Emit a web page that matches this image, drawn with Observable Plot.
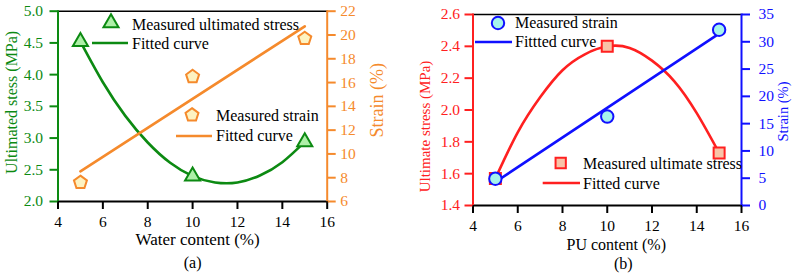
<!DOCTYPE html>
<html>
<head>
<meta charset="utf-8">
<script src="https://cdn.jsdelivr.net/npm/d3@7"></script>
<script src="https://cdn.jsdelivr.net/npm/@observablehq/plot@0.6"></script>
<style>
  html, body { margin: 0; padding: 0; background: #fff; }
  #wrap { display: flex; width: 796px; height: 273px; }
  svg { overflow: visible; }
</style>
</head>
<body>
<div id="wrap"></div>
<script>
// ---------- Panel (a): water content ----------
const waterContent = [5, 10, 15];
const stressA = [4.52, 2.40, 2.94];          // measured ultimate stress (MPa)
const strainA = [7.6, 16.5, 19.7];           // measured strain (%)
const fitStressAX = [5, 6, 7, 8, 9, 10, 11, 12, 13, 14, 15];
const fitStressAY = [4.52, 3.88, 3.35, 2.93, 2.61, 2.40, 2.30, 2.30, 2.41, 2.62, 2.94];
const fitStrainAX = [5, 15];
const fitStrainAY = [8.53, 20.73];
const ticksXA = [4, 6, 8, 10, 12, 14, 16];
const ticksStressA = [2.0, 2.5, 3.0, 3.5, 4.0, 4.5, 5.0];
const ticksStrainA = [6, 8, 10, 12, 14, 16, 18, 20, 22];

// ---------- Panel (b): PU content ----------
const puContent = [5, 10, 15];
const stressB = [1.57, 2.40, 1.73];
const strainB = [4.9, 16.3, 32.2];
const fitStressBX = [5, 6, 7, 8, 9, 10, 11, 12, 13, 14, 15];
const fitStressBY = [1.57, 1.86, 2.08, 2.25, 2.35, 2.40, 2.39, 2.31, 2.18, 1.98, 1.73];
const fitStrainBX = [5, 15];
const fitStrainBY = [4.3, 31.5];
const ticksXB = [4, 6, 8, 10, 12, 14, 16];
const ticksStressB = [1.4, 1.6, 1.8, 2.0, 2.2, 2.4, 2.6];
const ticksStrainB = [0, 5, 10, 15, 20, 25, 30, 35];

const FONT = '"Liberation Serif", "Times New Roman", serif';
const green = "#0c8a12", greenFill = "#aef0a8";
const orange = "#f58a2c", orangeFill = "#fdf3c2";
const red = "#ff2020", redFill = "#f8c4a8";
const blue = "#1010ff", blueFill = "#a6f3ec";

// pentagon symbol for the strain markers
const pentagon = {
  draw(ctx, size) {
    const R = Math.sqrt(size / Math.PI) * 1.1;
    for (let i = 0; i < 5; i++) {
      const a = -Math.PI / 2 + i * 2 * Math.PI / 5;
      const px = R * Math.cos(a), py = R * Math.sin(a);
      i ? ctx.lineTo(px, py) : ctx.moveTo(px, py);
    }
    ctx.closePath();
  }
};

function rows(xs, ys) { return xs.map((x, i) => ({x, y: ys[i]})); }

function dualPanel(cfg) {
  const toLeft = d3.scaleLinear().domain(cfg.rightDomain).range(cfg.leftDomain);
  const fmt = d3.format(".1f");
  const title = {textAnchor: "middle", lineAnchor: "middle"};
  const plot = Plot.plot({
    width: 398, height: 273,
    marginLeft: cfg.ml, marginRight: cfg.mr, marginTop: cfg.mt, marginBottom: 273 - cfg.bottom,
    style: {fontFamily: FONT, fontSize: "15px", background: "white", color: "black"},
    x: {domain: [cfg.xTicks[0], cfg.xTicks[cfg.xTicks.length - 1]]},
    y: {domain: cfg.leftDomain},
    marks: [
      Plot.frame({anchor: "top", stroke: "black", strokeWidth: 1.5}),
      Plot.frame({anchor: "bottom", stroke: "black", strokeWidth: 2}),
      Plot.frame({anchor: "left", stroke: cfg.leftColor, strokeWidth: 2}),
      Plot.frame({anchor: "right", stroke: cfg.rightColor, strokeWidth: 2}),
      Plot.axisX({ticks: cfg.xTicks, tickSize: 8, tickPadding: 6, strokeWidth: 2, label: null, fill: "black", fontSize: 15.5}),
      Plot.axisY({ticks: cfg.leftTicks, tickFormat: fmt, tickSize: 8, tickPadding: cfg.lpad, strokeWidth: 2,
        color: cfg.leftColor, label: null, fontSize: 15.5}),
      Plot.axisY({anchor: "right", ticks: cfg.rightTicks.map(toLeft), tickFormat: v => String(Math.round(toLeft.invert(v))),
        tickSize: 8, tickPadding: cfg.rpad, strokeWidth: 2, color: cfg.rightColor, label: null, fontSize: 15.5}),
      // fitted curves
      Plot.line(rows(cfg.fitLX, cfg.fitLY), {x: "x", y: "y", stroke: cfg.leftColor, strokeWidth: 2.6, curve: "natural"}),
      Plot.line(rows(cfg.fitRX, cfg.fitRY.map(toLeft)), {x: "x", y: "y", stroke: cfg.rightColor, strokeWidth: 2.6}),
      // measured values
      ...cfg.markerOrder.map(side => side === "left"
        ? Plot.dot(rows(cfg.xs, cfg.leftY), {x: "x", y: "y", symbol: cfg.leftSymbol, r: cfg.leftR,
            stroke: cfg.leftColor, fill: cfg.leftFill, strokeWidth: 2})
        : Plot.dot(rows(cfg.xs, cfg.rightY.map(toLeft)), {x: "x", y: "y", symbol: cfg.rightSymbol, r: cfg.rightR,
            stroke: cfg.rightColor, fill: cfg.rightFill, strokeWidth: 2})),
      // axis titles
      Plot.text([cfg.leftTitle], {...title, text: d => d, frameAnchor: "left", dx: cfg.ltDx, dy: cfg.ltDy, rotate: -90,
        fill: cfg.leftColor, fontSize: cfg.ltSize}),
      Plot.text([cfg.rightTitle], {...title, text: d => d, frameAnchor: "right", dx: cfg.rtDx, dy: cfg.rtDy, rotate: -90,
        fill: cfg.rightColor, fontSize: cfg.rtSize}),
      Plot.text([cfg.xTitle], {...title, text: d => d, frameAnchor: "bottom", dx: cfg.xtDx, dy: cfg.xtDy, fill: "black", fontSize: cfg.xtSize}),
      Plot.text([cfg.caption], {...title, text: d => d, frameAnchor: "bottom", dx: cfg.capDx, dy: cfg.capDy, fill: "black", fontSize: 16})
    ]
  });
  // legend entries
  const svg = d3.select(plot);
  const g = svg.append("g").attr("font-family", FONT).attr("font-size", 16).attr("text-anchor", "start");
  for (const e of cfg.legend) {
    if (e.symbol) {
      const type = e.symbol === "pentagon" ? pentagon
        : e.symbol === "triangle" ? d3.symbolTriangle
        : e.symbol === "square" ? d3.symbolSquare : d3.symbolCircle;
      g.append("path")
        .attr("d", d3.symbol().type(type).size(Math.PI * e.r * e.r)())
        .attr("transform", `translate(${e.sx},${e.sy})`)
        .attr("fill", e.fill).attr("stroke", e.color).attr("stroke-width", 2);
    } else {
      g.append("line").attr("x1", e.x1).attr("x2", e.x2).attr("y1", e.ly).attr("y2", e.ly)
        .attr("stroke", e.color).attr("stroke-width", 2.6);
    }
    g.append("text").attr("x", e.tx).attr("y", e.ty).attr("fill", "black").text(e.label);
  }
  return plot;
}

const wrap = document.getElementById("wrap");

wrap.appendChild(dualPanel({
  ml: 57.5, mr: 71.3, mt: 10.7, bottom: 201,
  xTicks: ticksXA, leftTicks: ticksStressA, rightTicks: ticksStrainA,
  leftDomain: [2, 5], rightDomain: [6, 22],
  leftColor: green, rightColor: orange, lpad: 7, rpad: 5,
  xs: waterContent, leftY: stressA, rightY: strainA,
  fitLX: fitStressAX, fitLY: fitStressAY, fitRX: fitStrainAX, fitRY: fitStrainAY,
  leftSymbol: "triangle", leftR: 5.6, leftFill: greenFill,
  rightSymbol: pentagon, rightR: 6.2, rightFill: orangeFill,
  markerOrder: ["right", "left"],
  leftTitle: "Ultimated stess (MPa)", ltDx: -46, ltDy: -4, ltSize: 16,
  rightTitle: "Strain (%)", rtDx: 50, rtDy: -6, rtSize: 18,
  xTitle: "Water content (%)", xtDx: 5, xtDy: 38.5, xtSize: 17,
  caption: "(a)", capDx: 0, capDy: 61,
  legend: [
    {symbol: "triangle", r: 5.6, sx: 111, sy: 23, color: green, fill: greenFill, tx: 132, ty: 29.5, label: "Measured ultimated stress"},
    {x1: 92, x2: 128, ly: 43, color: green, tx: 132, ty: 49, label: "Fitted curve"},
    {symbol: "pentagon", r: 6.2, sx: 192, sy: 115, color: orange, fill: orangeFill, tx: 216, ty: 120.5, label: "Measured strain"},
    {x1: 176, x2: 212, ly: 136, color: orange, tx: 216, ty: 140.5, label: "Fitted curve"}
  ]
}));

wrap.appendChild(dualPanel({
  ml: 74.5, mr: 55, mt: 14, bottom: 205,
  xTicks: ticksXB, leftTicks: ticksStressB, rightTicks: ticksStrainB,
  leftDomain: [1.4, 2.6], rightDomain: [0, 35],
  leftColor: red, rightColor: blue, lpad: 5, rpad: 9,
  xs: puContent, leftY: stressB, rightY: strainB,
  fitLX: fitStressBX, fitLY: fitStressBY, fitRX: fitStrainBX, fitRY: fitStrainBY,
  leftSymbol: "square", leftR: 6.2, leftFill: redFill,
  rightSymbol: "circle", rightR: 6.2, rightFill: blueFill,
  markerOrder: ["left", "right"],
  leftTitle: "Ultimate stress (MPa)", ltDx: -47.5, ltDy: 16.5, ltSize: 15,
  rightTitle: "Strain (%)", rtDx: 42, rtDy: 1.5, rtSize: 14.5,
  xTitle: "PU content (%)", xtDx: 9, xtDy: 39, xtSize: 16,
  caption: "(b)", capDx: 16, capDy: 58,
  legend: [
    {symbol: "circle", r: 6.2, sx: 100, sy: 23, color: blue, fill: blueFill, tx: 117, ty: 28, label: "Measured strain"},
    {x1: 77, x2: 114, ly: 42, color: blue, tx: 117, ty: 47, label: "Fittted curve"},
    {symbol: "square", r: 5.8, sx: 162.7, sy: 163, color: red, fill: redFill, tx: 185, ty: 168.5, label: "Measured ultimate stress"},
    {x1: 144.7, x2: 182, ly: 183, color: red, tx: 185, ty: 188.5, label: "Fitted curve"}
  ]
}));
</script>
</body>
</html>
